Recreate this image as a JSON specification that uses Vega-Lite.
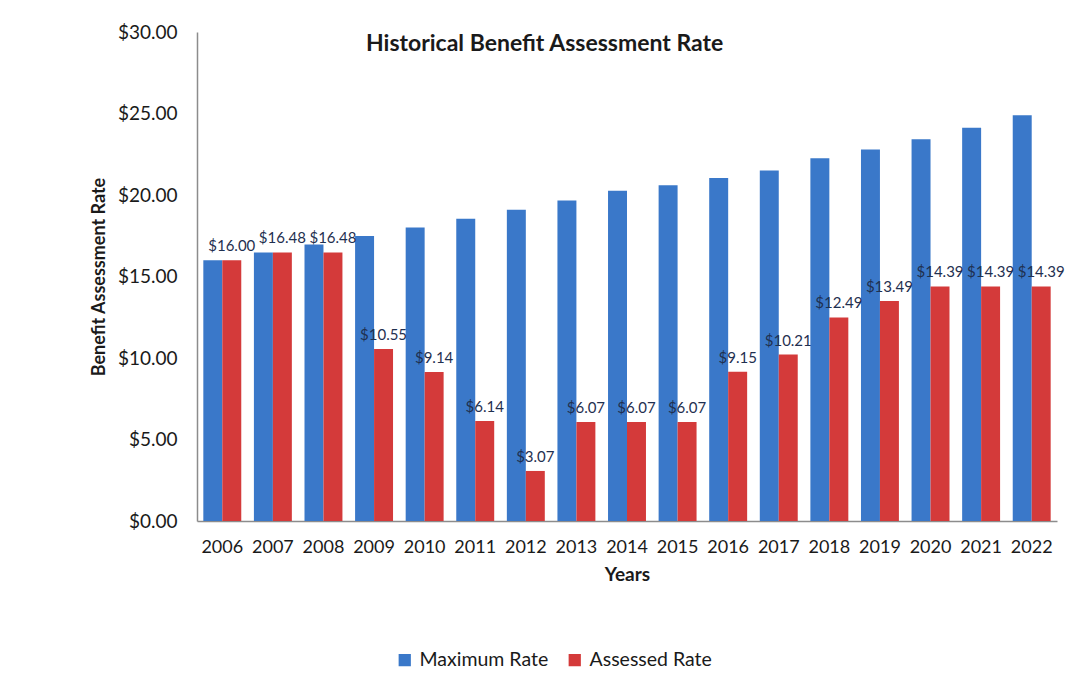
{
  "$schema": "https://vega.github.io/schema/vega-lite/v6.json",
  "width": 860,
  "height": 489,
  "autosize": {"type": "none"},
  "padding": {"left": 197, "top": 32, "right": 30, "bottom": 166},
  "background": "white",
  "title": {
    "text": "Historical Benefit Assessment Rate",
    "font": "Lato",
    "fontSize": 23,
    "fontWeight": "bold",
    "color": "#1a1a1a",
    "anchor": "start",
    "frame": "group",
    "dx": 169,
    "offset": -33
  },
  "config": {
    "font": "Lato",
    "view": {"stroke": null}
  },
  "data": {
    "values": [
      {"year": "2006", "series": "Maximum Rate", "value": 16.00},
      {"year": "2007", "series": "Maximum Rate", "value": 16.48},
      {"year": "2008", "series": "Maximum Rate", "value": 16.97},
      {"year": "2009", "series": "Maximum Rate", "value": 17.48},
      {"year": "2010", "series": "Maximum Rate", "value": 18.00},
      {"year": "2011", "series": "Maximum Rate", "value": 18.54},
      {"year": "2012", "series": "Maximum Rate", "value": 19.10},
      {"year": "2013", "series": "Maximum Rate", "value": 19.67},
      {"year": "2014", "series": "Maximum Rate", "value": 20.26},
      {"year": "2015", "series": "Maximum Rate", "value": 20.60},
      {"year": "2016", "series": "Maximum Rate", "value": 21.05},
      {"year": "2017", "series": "Maximum Rate", "value": 21.50},
      {"year": "2018", "series": "Maximum Rate", "value": 22.25},
      {"year": "2019", "series": "Maximum Rate", "value": 22.79},
      {"year": "2020", "series": "Maximum Rate", "value": 23.42},
      {"year": "2021", "series": "Maximum Rate", "value": 24.13},
      {"year": "2022", "series": "Maximum Rate", "value": 24.89},
      {"year": "2006", "series": "Assessed Rate", "value": 16.00},
      {"year": "2007", "series": "Assessed Rate", "value": 16.48},
      {"year": "2008", "series": "Assessed Rate", "value": 16.48},
      {"year": "2009", "series": "Assessed Rate", "value": 10.55},
      {"year": "2010", "series": "Assessed Rate", "value": 9.14},
      {"year": "2011", "series": "Assessed Rate", "value": 6.14},
      {"year": "2012", "series": "Assessed Rate", "value": 3.07},
      {"year": "2013", "series": "Assessed Rate", "value": 6.07},
      {"year": "2014", "series": "Assessed Rate", "value": 6.07},
      {"year": "2015", "series": "Assessed Rate", "value": 6.07},
      {"year": "2016", "series": "Assessed Rate", "value": 9.15},
      {"year": "2017", "series": "Assessed Rate", "value": 10.21},
      {"year": "2018", "series": "Assessed Rate", "value": 12.49},
      {"year": "2019", "series": "Assessed Rate", "value": 13.49},
      {"year": "2020", "series": "Assessed Rate", "value": 14.39},
      {"year": "2021", "series": "Assessed Rate", "value": 14.39},
      {"year": "2022", "series": "Assessed Rate", "value": 14.39}
    ]
  },
  "encoding": {
    "x": {
      "field": "year",
      "type": "ordinal",
      "scale": {"paddingInner": 0.25, "paddingOuter": 0.125},
      "axis": {
        "title": "Years",
        "labelAngle": 0,
        "labelFontSize": 18,
        "labelColor": "#1a1a1a",
        "labelPadding": 17,
        "ticks": false,
        "domainColor": "#8c8c8c",
        "domainWidth": 1.5,
        "titleFontSize": 19,
        "titleFontWeight": "bold",
        "titleColor": "#1a1a1a",
        "titlePadding": 9
      }
    },
    "xOffset": {
      "field": "series",
      "type": "nominal",
      "sort": ["Maximum Rate", "Assessed Rate"],
      "scale": {"paddingInner": 0}
    },
    "y": {
      "field": "value",
      "type": "quantitative",
      "scale": {"domain": [0, 30]},
      "axis": {
        "title": "Benefit Assessment Rate",
        "values": [0, 5, 10, 15, 20, 25, 30],
        "format": "$.2f",
        "grid": false,
        "ticks": false,
        "labelFontSize": 19,
        "labelColor": "#1a1a1a",
        "labelPadding": 20,
        "domainColor": "#8c8c8c",
        "domainWidth": 1.5,
        "titleFontSize": 18,
        "titleFontWeight": "bold",
        "titleColor": "#1a1a1a",
        "titlePadding": 9
      }
    }
  },
  "layer": [
    {
      "mark": {"type": "bar"},
      "encoding": {
        "color": {
          "field": "series",
          "type": "nominal",
          "sort": ["Maximum Rate", "Assessed Rate"],
          "scale": {"domain": ["Maximum Rate", "Assessed Rate"], "range": ["#3a78c9", "#d43a3a"]},
          "legend": {
            "title": null,
            "orient": "none",
            "direction": "horizontal",
            "legendX": 198,
            "legendY": 618,
            "symbolType": "square",
            "symbolSize": 150,
            "symbolStrokeWidth": 0,
            "labelFontSize": 19.5,
            "labelColor": "#1a1a1a",
            "columnPadding": 16,
            "labelOffset": 5
          }
        }
      }
    },
    {
      "transform": [{"filter": "datum.series === 'Assessed Rate'"}],
      "mark": {"type": "text", "baseline": "bottom", "dy": -6, "fontSize": 15, "color": "#1f3050"},
      "encoding": {
        "text": {"field": "value", "type": "quantitative", "format": "$.2f"}
      }
    }
  ]
}
